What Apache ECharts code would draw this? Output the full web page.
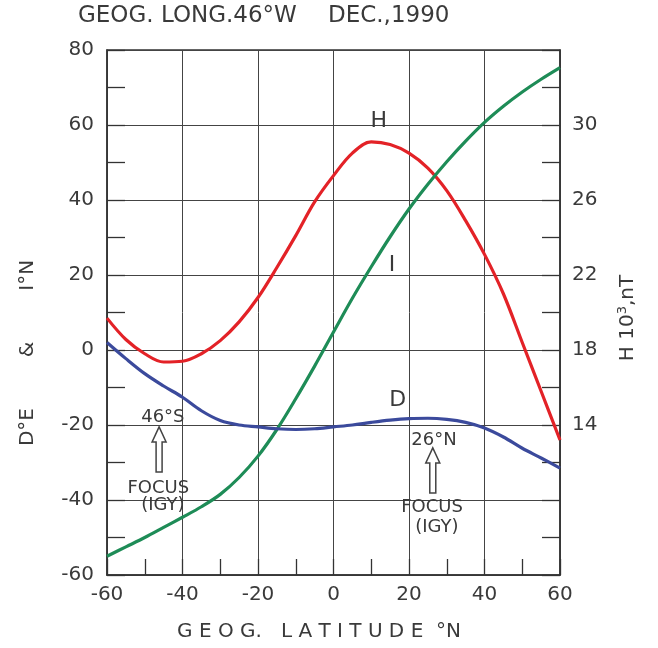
<!DOCTYPE html>
<html>
<head>
<meta charset="utf-8">
<script src="https://cdn.jsdelivr.net/npm/echarts@6/dist/echarts.min.js"></script>
<style>
  html, body { margin: 0; padding: 0; background: #fff; }
  #char { width: 658px; height: 648px; }
</style>
</head>
<body>
<div id="char"></div>
<script>
// geographic latitude, deg N
var latitudes = [-60, -55, -50, -45, -40, -35, -30, -25, -20, -15, -10, -5, 0, 5, 10, 15, 20, 25, 30, 35, 40, 45, 50, 55, 60];
// declination D, deg E
var dValues = [2, -2.3, -6.3, -9.6, -12.6, -16.2, -18.8, -20, -20.5, -21, -21.2, -21, -20.5, -20, -19.3, -18.7, -18.3, -18.2, -18.5, -19.3, -20.8, -23.2, -26.2, -28.8, -31.5];
// inclination I, deg N
var iValues = [-55, -52.5, -50, -47.3, -44.6, -41.8, -38.5, -34, -28.3, -21.2, -13, -4.3, 4.8, 13.8, 22.2, 30.2, 37.6, 44.2, 50.2, 55.7, 60.7, 65, 68.8, 72.2, 75.3];
// horizontal intensity H, 10^3 nT
var hValues = [19.7, 18.56, 17.8, 17.36, 17.4, 17.8, 18.5, 19.5, 20.8, 22.4, 24.1, 25.9, 27.3, 28.5, 29.1, 28.96, 28.5, 27.7, 26.5, 24.9, 23.1, 21.0, 18.4, 15.8, 13.2];
var hTickLabels = [14, 18, 22, 26, 30];

var FONT = "DejaVu Sans";
var INK = "#3a3a3a";

function pairs(vals) {
  return latitudes.map(function (lat, i) { return [lat, vals[i]]; });
}

var option = {
  animation: false,
  backgroundColor: "#fff",
  textStyle: { fontFamily: FONT, color: INK },
  grid: {
    left: 107, right: 98, top: 50, bottom: 73,
    show: true, borderColor: "#333", borderWidth: 1.5
  },
  xAxis: {
    type: "value",
    min: -60, max: 60, interval: 20,
    axisLine: { onZero: false, lineStyle: { color: "#333", width: 1.5 } },
    axisTick: { inside: true, length: 16, lineStyle: { color: "#333", width: 1.3 } },
    minorTick: { show: true, splitNumber: 2, length: 16, lineStyle: { color: "#333", width: 1.3 } },
    axisLabel: { fontSize: 20, color: INK, margin: 10, fontFamily: FONT, showMinLabel: true, showMaxLabel: true },
    splitLine: { show: true, lineStyle: { color: "#444", width: 1 } }
  },
  yAxis: [
    {
      type: "value",
      min: -60, max: 80, interval: 20,
      axisLine: { show: true, onZero: false, lineStyle: { color: "#333", width: 1.5 } },
      axisTick: { inside: true, length: 18, lineStyle: { color: "#333", width: 1.3 } },
      minorTick: { show: true, splitNumber: 2, length: 18, lineStyle: { color: "#333", width: 1.3 } },
      axisLabel: { fontSize: 20, color: INK, margin: 13, fontFamily: FONT },
      splitLine: { show: true, lineStyle: { color: "#444", width: 1 } }
    },
    {
      type: "value",
      position: "right",
      min: 6, max: 34, interval: 2,
      axisLine: { show: true, onZero: false, lineStyle: { color: "#333", width: 1.5 } },
      axisTick: { inside: true, length: 18, lineStyle: { color: "#333", width: 1.3 } },
      axisLabel: {
        fontSize: 20, color: INK, margin: 12, fontFamily: FONT,
        formatter: function (v) { return hTickLabels.indexOf(v) >= 0 ? String(v) : ""; }
      },
      splitLine: { show: false }
    }
  ],
  series: [
    {
      name: "H", type: "line", yAxisIndex: 1, data: pairs(hValues),
      smooth: 0.35, symbol: "none",
      lineStyle: { color: "#e32227", width: 3.2 }, z: 3
    },
    {
      name: "I", type: "line", yAxisIndex: 0, data: pairs(iValues),
      smooth: 0.35, symbol: "none",
      lineStyle: { color: "#1e8c57", width: 3.2 }, z: 3
    },
    {
      name: "D", type: "line", yAxisIndex: 0, data: pairs(dValues),
      smooth: 0.35, symbol: "none",
      lineStyle: { color: "#3b4a9c", width: 3.2 }, z: 3
    }
  ]
};

var chart = echarts.init(document.getElementById("char"));
chart.setOption(option);

function px(p) {
  return chart.convertToPixel({ xAxisIndex: 0, yAxisIndex: 0 }, p);
}
function label(text, p, size) {
  var q = px(p);
  return {
    type: "text", x: q[0], y: q[1], z: 10,
    style: { text: text, fontSize: size, fontFamily: FONT, fill: INK, align: "center", verticalAlign: "middle" }
  };
}
function arrow(tip, base) {
  var a = px(tip), b = px(base);
  var h = b[1] - a[1];
  var x = a[0], y = a[1];
  return {
    type: "polygon", z: 10,
    shape: { points: [[x, y], [x + 7, y + 15], [x + 3, y + 15], [x + 3, y + h], [x - 3, y + h], [x - 3, y + 15], [x - 7, y + 15]] },
    style: { fill: "none", stroke: "#444", lineWidth: 1.5 }
  };
}

chart.setOption({
  graphic: [
    { type: "text", left: 78, top: 5, style: { text: "GEOG. LONG.46°W", fontSize: 23, fontFamily: FONT, fill: INK } },
    { type: "text", left: 328, top: 5, style: { text: "DEC.,1990", fontSize: 23, fontFamily: FONT, fill: INK } },
    { type: "text", x: 319, y: 632, style: { text: "G E O G.   L A T I T U D E  °N", fontSize: 20, fontFamily: FONT, fill: INK, align: "center", verticalAlign: "middle" } },
    { type: "text", x: 28, y: 353, rotation: Math.PI / 2, style: { text: "D°E        &        I°N", fontSize: 20, fontFamily: FONT, fill: INK, align: "center", verticalAlign: "middle" } },
    {
      type: "text", x: 628, y: 318, rotation: Math.PI / 2,
      style: {
        text: "H 10{s|3},nT", fontSize: 20, fontFamily: FONT, fill: INK, align: "center", verticalAlign: "middle",
        rich: { s: { fontSize: 13, fontFamily: FONT, fill: INK, verticalAlign: "top", padding: [0, 0, 10, 0] } }
      }
    },
    label("H", [12, 61], 22),
    label("I", [15.5, 22.7], 22),
    label("D", [17, -13.3], 22),
    label("46°S", [-45.2, -17.9], 18),
    arrow([-46.2, -20.5], [-46.2, -32.5]),
    label("FOCUS", [-46.4, -36.8], 18),
    label("(IGY)", [-45.2, -41.3], 18),
    label("26°N", [26.6, -24], 18),
    arrow([26.3, -26.1], [26.3, -38.1]),
    label("FOCUS", [26.1, -41.9], 18),
    label("(IGY)", [27.4, -47.2], 18)
  ]
});
</script>
</body>
</html>
